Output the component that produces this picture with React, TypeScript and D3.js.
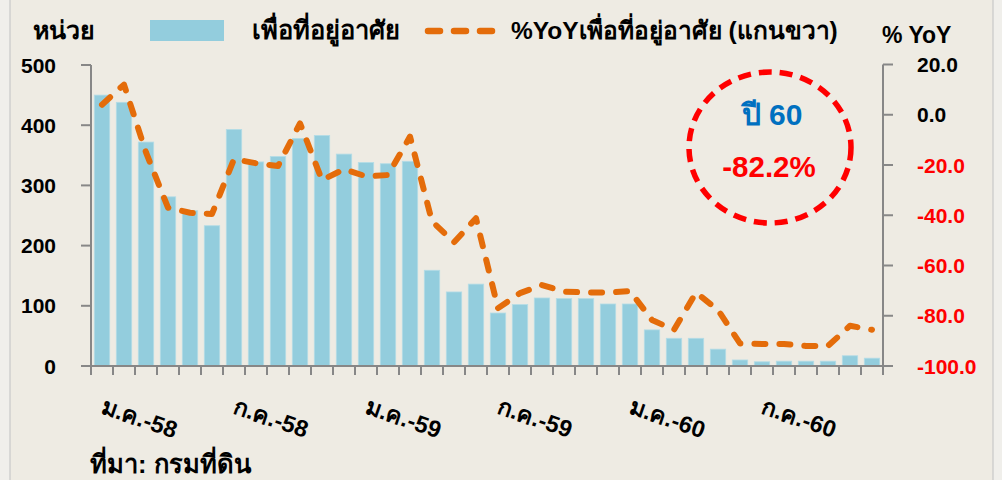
import React from "react";
import * as d3 from "d3";

const monthNames = ["ม.ค.", "ก.พ.", "มี.ค.", "เม.ย.", "พ.ค.", "มิ.ย.", "ก.ค.", "ส.ค.", "ก.ย.", "ต.ค.", "พ.ย.", "ธ.ค."];
const years = ["58", "59", "60"];
const categories: string[] = years.flatMap((y) => monthNames.map((m) => `${m}-${y}`));

const units = [450, 438, 372, 281, 258, 233, 393, 339, 348, 378, 383, 352, 338, 336, 340, 159, 123, 136, 88, 102, 113, 112, 112, 103, 103, 60, 46, 46, 28, 10, 7, 8, 8, 8, 17, 13];
const yoy = [4, 12, -15, -37, -39, -39.5, -17.7, -19.3, -20.4, -3.4, -26, -21.7, -24.5, -24, -8.7, -42.4, -50.8, -41.2, -77, -71, -67.8, -70.4, -70.7, -70.8, -70.2, -81.7, -85.6, -70.8, -77.7, -91, -91.2, -91.2, -92, -92, -84, -85.6];

const leftTicks = [0, 100, 200, 300, 400, 500];
const rightTicks = [20, 0, -20, -40, -60, -80, -100];
const shownLabels = ["ม.ค.-58", "ก.ค.-58", "ม.ค.-59", "ก.ค.-59", "ม.ค.-60", "ก.ค.-60"];

const barLegend = "เพื่อที่อยู่อาศัย";
const lineLegend = "%YoYเพื่อที่อยู่อาศัย (แกนขวา)";
const leftTitle = "หน่วย";
const rightTitle = "% YoY";
const source = "ที่มา: กรมที่ดิน";
const noteYear = "ปี 60";
const noteValue = "-82.2%";

const W = 1002;
const H = 480;
const FONT = "'Liberation Sans', Arial, sans-serif";

export default function App() {
  const x = d3.scaleBand<string>().domain(categories).range([91, 883]).paddingInner(0.3).paddingOuter(0.15);
  const yL = d3.scaleLinear().domain([0, 500]).range([366, 65]);
  const yR = d3.scaleLinear().domain([-100, 20]).range([366, 64.5]);
  const step = x.step();
  const cx = (c: string) => (x(c) as number) + x.bandwidth() / 2;

  const line = d3
    .line<number>()
    .x((_, i) => cx(categories[i]))
    .y((d) => yR(d));

  const boundaries = d3.range(categories.length + 1).map((i) => 91 + i * step);

  return (
    <svg width={W} height={H} style={{ position: "absolute", left: 0, top: 0, display: "block" }} fontFamily={FONT}>
      <rect x={0} y={0} width={W} height={H} fill="#F0EFEB" />
      <rect x={10} y={-2} width={983} height={H + 4} fill="#EEEBE3" stroke="#C9C9C9" strokeWidth={1.2} />

      {/* bars */}
      {units.map((v, i) => (
        <rect
          key={i}
          x={x(categories[i])}
          y={yL(v)}
          width={x.bandwidth()}
          height={yL(0) - yL(v)}
          fill="#93CDDD"
          stroke="#B4DCE6"
          strokeWidth={0.8}
        />
      ))}

      {/* axes */}
      <g stroke="#878787" strokeWidth={2} fill="none">
        <line x1={91} y1={65} x2={91} y2={367} />
        {leftTicks.map((t) => (
          <line key={t} x1={81} x2={91} y1={yL(t)} y2={yL(t)} />
        ))}
        <line x1={883} y1={64.5} x2={883} y2={367} />
        {rightTicks.map((t) => (
          <line key={t} x1={883} x2={893} y1={yR(t)} y2={yR(t)} />
        ))}
        <line x1={90} y1={366} x2={884} y2={366} />
        {boundaries.map((b, i) => (
          <line key={i} x1={b} x2={b} y1={366} y2={375} />
        ))}
      </g>

      {/* line series */}
      <path
        d={line(yoy) as string}
        fill="none"
        stroke="#E46C0A"
        strokeWidth={6}
        strokeDasharray="11,14"
        strokeLinecap="round"
        strokeLinejoin="round"
      />

      {/* left tick labels */}
      {leftTicks.map((t) => (
        <text key={t} x={56} y={yL(t) + 7.5} textAnchor="end" fontSize={21} fontWeight="bold" fill="#000">
          {t}
        </text>
      ))}
      {/* right tick labels */}
      {rightTicks.map((t) => (
        <text key={t} x={917} y={yR(t) + 7.5} textAnchor="start" fontSize={21} fontWeight="bold" fill={t < 0 ? "#FF0000" : "#000"}>
          {t.toFixed(1)}
        </text>
      ))}

      {/* x labels */}
      {shownLabels.map((l) => {
        const px = cx(l) - 2;
        const py = 413;
        return (
          <text key={l} x={px} y={py} transform={`rotate(19 ${px} ${py})`} fontSize={23.5} fontWeight="bold" fill="#000">
            {l}
          </text>
        );
      })}

      {/* titles */}
      <text x={33} y={39} fontSize={25} fontWeight="bold" fill="#000">{leftTitle}</text>
      <text x={882} y={43} fontSize={23} fontWeight="bold" fill="#000">{rightTitle}</text>

      {/* legend */}
      <rect x={150} y={20} width={74} height={21} fill="#93CDDD" />
      <text x={252} y={39} fontSize={25.5} fontWeight="bold" fill="#000">{barLegend}</text>
      <line x1={428} y1={31} x2={500} y2={31} stroke="#E46C0A" strokeWidth={6.5} strokeDasharray="12,14" strokeLinecap="round" />
      <text x={511} y={39} fontSize={24.5} fontWeight="bold" fill="#000">{lineLegend}</text>

      {/* annotation circle */}
      <ellipse cx={770} cy={147.5} rx={81} ry={75.5} fill="none" stroke="#FF0000" strokeWidth={5.5} strokeDasharray="13,8" />
      <text x={772} y={125} textAnchor="middle" fontSize={30} fontWeight="bold" fill="#0070C0">{noteYear}</text>
      <text x={769} y={177} textAnchor="middle" fontSize={29.5} fontWeight="bold" fill="#FF0000">{noteValue}</text>

      {/* source */}
      <text x={90} y={473} fontSize={25.5} fontWeight="bold" fill="#000">{source}</text>
    </svg>
  );
}
